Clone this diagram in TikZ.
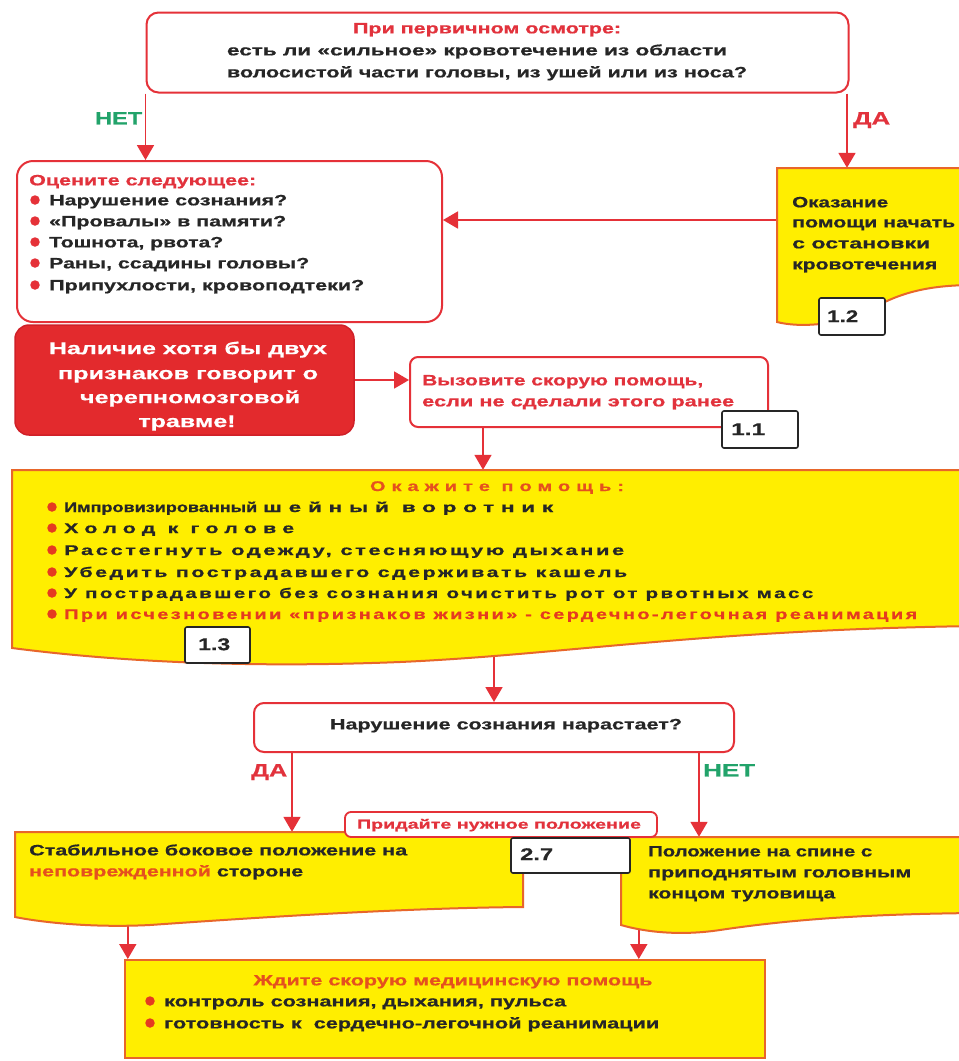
\documentclass[tikz,border=0pt]{standalone}
\usepackage{graphicx}
\usepackage{fontspec}
\setmainfont{Liberation Sans}[BoldFeatures={FakeBold=0.6}]
\newfontfamily\spcH{Liberation Sans}[LetterSpace=30,BoldFeatures={FakeBold=0.6}]
\newfontfamily\spcL{Liberation Sans}[LetterSpace=12,BoldFeatures={FakeBold=0.6}]
\usetikzlibrary{arrows.meta}
\definecolor{rline}{HTML}{E53138}
\definecolor{rtext}{HTML}{E2323C}
\definecolor{gtext}{HTML}{22A36A}
\definecolor{ylw}{HTML}{FFEE00}
\definecolor{yline}{HTML}{E8662A}
\definecolor{otext}{HTML}{E5501E}
\definecolor{otext2}{HTML}{E53A20}
\definecolor{rfill}{HTML}{E32A2D}
\definecolor{rdark}{HTML}{D02028}
\definecolor{ink}{HTML}{262626}
\newsavebox\fitbx
\newcommand\fitw[2]{\sbox\fitbx{#2}\pgfmathsetmacro\fitratio{#1/\the\wd\fitbx}\scalebox{\fitratio}[1]{\usebox\fitbx}}
\pgfdeclarelayer{back}
\pgfdeclarelayer{bg}
\pgfsetlayers{back,bg,main}
\begin{document}
\begin{tikzpicture}[x=1pt,y=-1pt,
  wbox/.style={draw=rline, line width=2pt, fill=white, rounded corners=12pt, inner sep=0pt},
  lbl/.style={draw=ink, line width=1.6pt, fill=white, rounded corners=2pt, inner sep=0pt},
  ybox/.style={draw=yline, line width=2pt, fill=ylw},
  ghost/.style={inner sep=0pt, draw=none},
  arr/.style={draw=rline, line width=1.8pt, -{Triangle[length=15pt,width=17pt]}},
  bul/.style={circle, fill=rline, inner sep=0pt, minimum size=9.5pt},
  obul/.style={circle, fill=otext2, inner sep=0pt, minimum size=9.5pt},
  tx/.style={inner sep=0pt, text depth=0pt, text height=10.7pt, text=ink, font=\bfseries\fontsize{15}{18}\selectfont},
  txs/.style={inner sep=0pt, text depth=0pt, text height=10pt, text=ink, font=\bfseries\fontsize{14}{17}\selectfont},
  txp/.style={inner sep=0pt, text depth=0pt, text height=9.3pt, text=rtext, font=\bfseries\fontsize{13}{16}\selectfont},
  txb/.style={inner sep=0pt, text depth=0pt, text height=12.2pt, text=white, font=\bfseries\fontsize{17}{20}\selectfont},
  txl/.style={inner sep=0pt, text depth=0pt, text height=12.9pt, font=\bfseries\fontsize{18}{21}\selectfont},
  txn/.style={inner sep=0pt, text depth=0pt, text height=12.2pt, text=ink, font=\bfseries\fontsize{17}{20}\selectfont}
]
\useasboundingbox (0,0) rectangle (959,1061);
\begin{pgfonlayer}{back}
\fill[white] (0,0) rectangle (959,1061);
\end{pgfonlayer}
\clip (0,0) rectangle (959,1061);

% ---- top question
\node[wbox, minimum width=702pt, minimum height=80pt] (q1) at (497.5,52.5) {};
\node[tx, text=rtext] (t1) at (487,28) {\fitw{268}{При первичном осмотре:}};
\node[tx] (t2) at (477,50) {\fitw{500}{есть ли «сильное» кровотечение из области}};
\node[tx] (t3) at (487,72) {\fitw{520}{волосистой части головы, из ушей или из носа?}};
\node[txl, text=gtext, anchor=west] (n1) at (95,118) {\fitw{47}{НЕТ}};
\node[txl, text=rtext, anchor=west] (d1) at (853,118) {\fitw{37}{ДА}};

% ---- assess box
\node[wbox, rounded corners=16pt, minimum width=425pt, minimum height=161pt] (b2) at (229.5,241.5) {};
\node[tx, text=rtext, anchor=west] (t4) at (29,180) {\fitw{227}{Оцените следующее:}};
\node[bul] (bu1) at (35,200) {};
\node[bul] (bu2) at (35,221) {};
\node[bul] (bu3) at (35,242) {};
\node[bul] (bu4) at (35,263) {};
\node[bul] (bu5) at (35,285) {};
\node[tx, anchor=west] (t5) at (49,200) {\fitw{238}{Нарушение сознания?}};
\node[tx, anchor=west] (t6) at (49,221) {\fitw{237}{«Провалы» в памяти?}};
\node[tx, anchor=west] (t7) at (49,242) {\fitw{174}{Тошнота, рвота?}};
\node[tx, anchor=west] (t8) at (49,263) {\fitw{260}{Раны, ссадины головы?}};
\node[tx, anchor=west] (t9) at (49,285) {\fitw{315}{Припухлости, кровоподтеки?}};

% ---- bleeding box 1.2
\node[ghost, minimum width=193pt, minimum height=154pt] (y12) at (873.5,245) {};
\path[ybox] (777,168) -- (975,168) -- (975,285) .. controls (930,285) and (900,292) .. (870,310) .. controls (840,325) and (800,328) .. (777,322) -- cycle;
\node[tx, anchor=west] (t10) at (792,202) {\fitw{96}{Оказание}};
\node[tx, anchor=west] (t11) at (792,222) {\fitw{163}{помощи начать}};
\node[tx, anchor=west] (t12) at (792,243) {\fitw{138}{с остановки}};
\node[tx, anchor=west] (t13) at (792,264) {\fitw{145}{кровотечения}};
\node[lbl, minimum width=66pt, minimum height=37pt] (l12) at (852,316.5) {};
\node[txn, anchor=west] (t14) at (827,316) {\fitw{31}{1.2}};

% ---- red box
\node[draw=rdark, fill=rfill, line width=1.5pt, rounded corners=14pt, inner sep=0pt, minimum width=339pt, minimum height=110pt] (rb) at (184.5,380) {};
\node[txb] (t15) at (188,348) {\fitw{278}{Наличие хотя бы двух}};
\node[txb] (t16) at (188,373) {\fitw{260}{признаков говорит о}};
\node[txb] (t17) at (190,397) {\fitw{220}{черепномозговой}};
\node[txb] (t18) at (187,421) {\fitw{97}{травме!}};

% ---- call ambulance
\node[wbox, rounded corners=8pt, minimum width=358pt, minimum height=70pt] (b3) at (589,392) {};
\node[tx, text=rtext, anchor=west] (t19) at (422,380) {\fitw{281}{Вызовите скорую помощь,}};
\node[tx, text=rtext, anchor=west] (t20) at (422,401) {\fitw{312}{если не сделали этого ранее}};
\node[lbl, minimum width=76pt, minimum height=37pt] (l11) at (760,429.5) {};
\node[txn, anchor=west] (t21) at (731,429) {\fitw{34}{1.1}};

% ---- help box 1.3
\node[ghost, minimum width=963pt, minimum height=178pt] (by) at (493.5,559) {};
\path[ybox] (12,470) -- (975,470) -- (975,626) .. controls (700,630) and (560,655) .. (400,662) .. controls (250,668) and (120,662) .. (12,648) -- cycle;
\node[txs, text=otext] (t22) at (497,486) {\fitw{254}{\spcH Окажите помощь:}};
\node[obul] (bu6) at (52,507) {};
\node[obul] (bu7) at (52,528) {};
\node[obul] (bu8) at (52,550) {};
\node[obul] (bu9) at (52,572) {};
\node[obul] (bu10) at (52,593) {};
\node[obul] (bu11) at (52,614) {};
\node[txs, anchor=west] (t23) at (64,507) {\fitw{193}{Импровизированный}};
\node[txs, anchor=west] (t24) at (263,507) {\fitw{290}{\spcH шейный воротник}};
\node[txs, anchor=west] (t25) at (64,528) {\fitw{230}{\spcH Холод к голове}};
\node[txs, anchor=west] (t26) at (64,550) {\fitw{560}{\spcL Расстегнуть одежду, стесняющую дыхание}};
\node[txs, anchor=west] (t27) at (64,572) {\fitw{563}{\spcL Убедить пострадавшего сдерживать кашель}};
\node[txs, anchor=west] (t28) at (64,593) {\fitw{749}{\spcL У пострадавшего без сознания очистить рот от рвотных масс}};
\node[txs, anchor=west, text=otext2] (t29) at (64,614) {\fitw{853}{\spcL При исчезновении «признаков жизни» - сердечно-легочная реанимация}};
\node[lbl, minimum width=65pt, minimum height=36pt] (l13) at (217.5,645) {};
\node[txn, anchor=west] (t30) at (198,644) {\fitw{32}{1.3}};

% ---- consciousness question
\node[wbox, rounded corners=10pt, minimum width=480pt, minimum height=49pt] (q4) at (494,727.5) {};
\node[tx] (t31) at (506,724) {\fitw{352}{Нарушение сознания нарастает?}};
\node[txl, text=rtext, anchor=west] (d2) at (251,770) {\fitw{36}{ДА}};
\node[txl, text=gtext, anchor=west] (n2) at (703,770) {\fitw{52}{НЕТ}};

% ---- position boxes
\node[ghost, minimum width=508pt, minimum height=78pt] (ly) at (269,871) {};
\path[ybox] (15,832) -- (523,832) -- (523,907) .. controls (400,908) and (250,918) .. (150,925) .. controls (90,928) and (40,922) .. (15,917) -- cycle;
\node[tx, anchor=west] (t32) at (29,850) {\fitw{378}{Стабильное боковое положение на}};
\node[tx, anchor=west] (t33) at (29,871) {\fitw{274}{{\color{otext}неповрежденной} стороне}};
\node[ghost, minimum width=344pt, minimum height=88pt] (ry) at (793,881) {};
\path[ybox] (621,837) -- (975,837) -- (975,913) .. controls (880,914) and (800,918) .. (720,930) .. controls (680,936) and (645,932) .. (621,925) -- cycle;
\node[tx, anchor=west] (t34) at (648,851) {\fitw{224}{Положение на спине с}};
\node[tx, anchor=west] (t35) at (648,872) {\fitw{263}{приподнятым головным}};
\node[tx, anchor=west] (t36) at (648,893) {\fitw{187}{концом туловища}};
\node[wbox, rounded corners=6pt, line width=1.8pt, minimum width=312pt, minimum height=25pt] (pb) at (501,824.5) {};
\node[txp] (t37) at (499,824) {\fitw{284}{Придайте нужное положение}};
\node[lbl, minimum width=119pt, minimum height=35pt] (l27) at (570.5,855.5) {};
\node[txn, anchor=west] (t38) at (520,854) {\fitw{33}{2.7}};

% ---- final box
\node[ybox, inner sep=0pt, minimum width=640pt, minimum height=98pt] (fin) at (445,1009) {};
\node[tx, text=otext] (t39) at (453,980) {\fitw{399}{Ждите скорую медицинскую помощь}};
\node[obul] (bu12) at (150,1001) {};
\node[obul] (bu13) at (150,1023) {};
\node[tx, anchor=west] (t40) at (164,1001) {\fitw{402}{контроль сознания, дыхания, пульса}};
\node[tx, anchor=west] (t41) at (164,1023) {\fitw{495}{готовность к\ \ сердечно-легочной реанимации}};

% ---- connectors (under boxes)
\begin{pgfonlayer}{bg}
\draw[arr] (q1.south west) -- (q1.south west |- b2.north);
\draw[arr] ([xshift=-2.5pt]q1.south east) -- ([xshift=-2.5pt]q1.south east |- y12.north);
\draw[arr] ([yshift=25pt]y12.west) -- ([yshift=25pt]y12.west -| b2.east);
\draw[arr] (rb.east) -- (rb.east -| b3.west);
\draw[arr] ([xshift=-106pt]b3.south) -- ([xshift=-106pt]b3.south |- by.north);
\draw[arr] (q4.north |- by.south) -- (q4.north);
\draw[arr] ([xshift=-202pt]q4.south) -- ([xshift=-202pt]q4.south |- ly.north);
\draw[arr] ([xshift=205pt]q4.south) -- ([xshift=205pt]q4.south |- ry.north);
\draw[arr] ([xshift=113pt]ly.south west) -- ([xshift=113pt]ly.south west |- fin.north);
\draw[arr] ([xshift=18pt]ry.south west) -- ([xshift=18pt]ry.south west |- fin.north);
\end{pgfonlayer}
\end{tikzpicture}
\end{document}
